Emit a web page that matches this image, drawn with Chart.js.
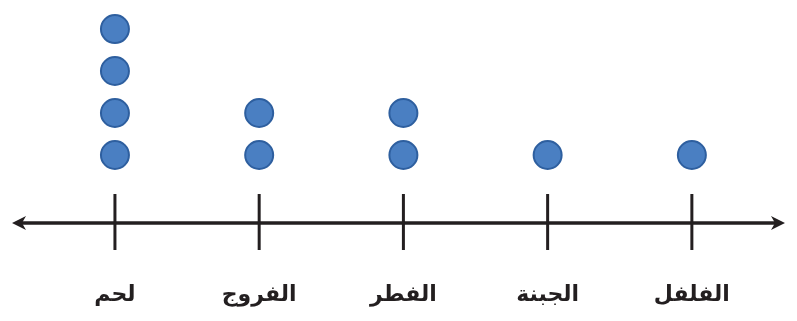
<!DOCTYPE html>
<html>
<head>
<meta charset="utf-8">
<script src="https://cdn.jsdelivr.net/npm/chart.js@4"></script>
<style>
  html, body { margin: 0; padding: 0; background: #fff; }
  #wrap { width: 797px; height: 321px; }
</style>
</head>
<body>
<div id="wrap"><canvas id="c"></canvas></div>
<script>
// categories in the order they sit on the axis, left to right
const categories = ["لحم", "الفروج", "الفطر", "الجبنة", "الفلفل"];
const counts = [4, 2, 2, 1, 1];

// one dot per counted item, stacked upward over its category
const dots = [];
counts.forEach((n, i) => {
  for (let k = 1; k <= n; k++) dots.push({ x: i, y: k });
});

// number line: axis, tick marks, arrows and labels
const numberLine = {
  id: "numberLine",
  beforeDatasetsDraw(chart) {
    const { ctx, chartArea, scales } = chart;
    const y0 = chartArea.bottom;
    const left = 12, right = 785;
    ctx.save();
    ctx.strokeStyle = "#231f20";
    ctx.fillStyle = "#231f20";
    ctx.lineWidth = 3.5;
    ctx.beginPath();
    ctx.moveTo(left + 4, y0);
    ctx.lineTo(right - 4, y0);
    ctx.stroke();
    // arrows
    ctx.beginPath();
    ctx.moveTo(left, y0);
    ctx.lineTo(left + 14, y0 - 7);
    ctx.lineTo(left + 10, y0);
    ctx.lineTo(left + 14, y0 + 7);
    ctx.closePath();
    ctx.fill();
    ctx.beginPath();
    ctx.moveTo(right, y0);
    ctx.lineTo(right - 14, y0 - 7);
    ctx.lineTo(right - 10, y0);
    ctx.lineTo(right - 14, y0 + 7);
    ctx.closePath();
    ctx.fill();
    // ticks + labels
    ctx.lineWidth = 3;
    ctx.font = "bold 22px 'DejaVu Sans'";
    ctx.textAlign = "center";
    ctx.textBaseline = "alphabetic";
    ctx.direction = "rtl";
    categories.forEach((label, i) => {
      const x = scales.x.getPixelForValue(i);
      ctx.beginPath();
      ctx.moveTo(x, y0 - 29);
      ctx.lineTo(x, y0 + 27);
      ctx.stroke();
      ctx.fillText(label, x, y0 + 78);
    });
    ctx.restore();
  }
};

new Chart(document.getElementById("c"), {
  type: "scatter",
  data: {
    datasets: [{
      data: dots,
      pointRadius: 14,
      pointHoverRadius: 14,
      backgroundColor: "#4a7fc2",
      borderColor: "#2e5f9f",
      borderWidth: 2,
      clip: false
    }]
  },
  options: {
    animation: false,
    responsive: true,
    maintainAspectRatio: false,
    layout: { padding: { left: 12, right: 12, top: 0, bottom: 98 } },
    scales: {
      x: { type: "linear", display: false, min: -0.686, max: 4.618 },
      y: { type: "linear", display: false, min: -0.619, max: 4.31 }
    },
    plugins: { legend: { display: false }, tooltip: { enabled: false } }
  },
  plugins: [numberLine]
});
</script>
</body>
</html>
